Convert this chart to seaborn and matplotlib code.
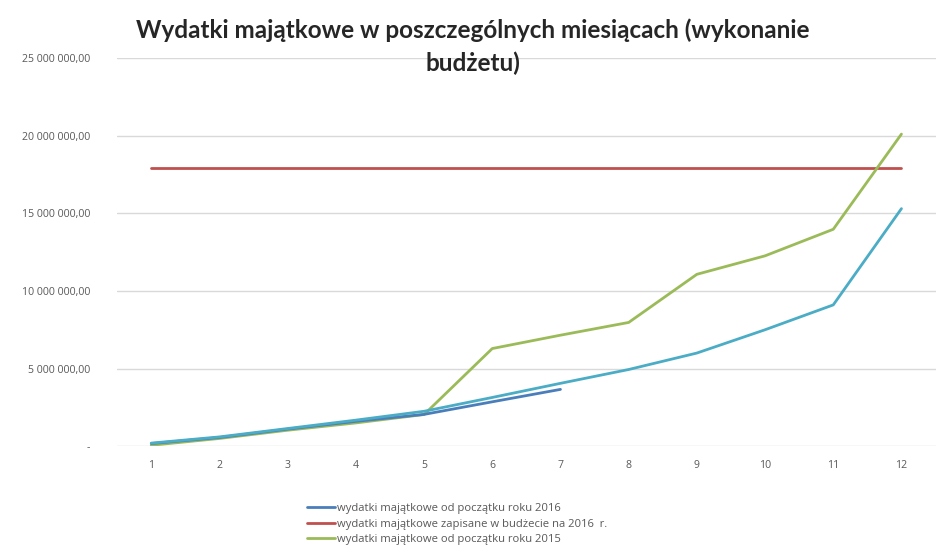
import numpy as np
import pandas as pd
import matplotlib
matplotlib.use('Agg')
import matplotlib.pyplot as plt
import seaborn as sns
from matplotlib.ticker import FuncFormatter

# values (PLN)
months = list(range(1, 13))
wyd_2016 = [0.17e6, 0.56e6, 1.10e6, 1.60e6, 2.05e6, 2.86e6, 3.66e6]
plan_2016 = [17.9e6] * 12
wyd_2015 = [0.06e6, 0.50e6, 1.03e6, 1.50e6, 2.04e6, 6.29e6, 7.15e6,
            7.97e6, 11.07e6, 12.26e6, 13.97e6, 20.1e6]
wyd_other = [0.20e6, 0.60e6, 1.14e6, 1.68e6, 2.25e6, 3.14e6, 4.05e6,
             4.94e6, 6.0e6, 7.5e6, 9.1e6, 15.3e6]

lab_2016 = 'wydatki majątkowe od początku roku 2016'
lab_plan = 'wydatki majątkowe zapisane w budżecie na 2016  r.'
lab_2015 = 'wydatki majątkowe od początku roku 2015'

sns.set_style('white')
plt.rcParams['font.family'] = ['Open Sans', 'DejaVu Sans']

fig = plt.figure(figsize=(9.45, 5.55), dpi=100)
ax = fig.add_axes([0.124, 0.196, 0.866, 0.6995])

lw = 2.0
sns.lineplot(x=months, y=wyd_other, color='#4BACC6', lw=lw, ax=ax, zorder=3)
sns.lineplot(x=months, y=plan_2016, color='#C0504D', lw=lw, ax=ax, label=lab_plan)
sns.lineplot(x=months, y=wyd_2015, color='#9BBB59', lw=lw, ax=ax, label=lab_2015, zorder=2)
sns.lineplot(x=months[:len(wyd_2016)], y=wyd_2016, color='#4A7EBB', lw=lw, ax=ax,
             label=lab_2016, zorder=2.5)

ax.set_xlim(0.5, 12.5)
ax.set_ylim(0, 25e6)
ax.set_xticks(months)
ax.set_yticks(np.arange(0, 25e6 + 1, 5e6))


def fmt(v, pos):
    if v == 0:
        return '-'
    return f'{v:,.2f}'.replace(',', ' ').replace('.', ',')


ax.yaxis.set_major_formatter(FuncFormatter(fmt))
ax.grid(axis='y', color='#d9d9d9', lw=1)
ax.set_axisbelow(True)
for s in ax.spines.values():
    s.set_visible(False)
ax.tick_params(axis='both', length=0, labelsize=7.6, colors='#595959')
ax.tick_params(axis='y', pad=19.5)
ax.tick_params(axis='x', pad=10)

handles, labels = ax.get_legend_handles_labels()
order = [labels.index(lab_2016), labels.index(lab_plan), labels.index(lab_2015)]
ax.legend([handles[i] for i in order], [labels[i] for i in order],
          loc='upper left', bbox_to_anchor=(0.32, 0.102), bbox_transform=fig.transFigure,
          frameon=False, fontsize=8.1, labelcolor='#595959', handlelength=2.5,
          handletextpad=0.2, labelspacing=0.42, borderaxespad=0)

fig.text(0.5, 0.967, 'Wydatki majątkowe w poszczególnych miesiącach (wykonanie\nbudżetu)',
         ha='center', va='top', fontsize=17.5, fontweight='bold', family=['Lato', 'DejaVu Sans'],
         linespacing=1.5)

fig.savefig('out.png', dpi=100)
